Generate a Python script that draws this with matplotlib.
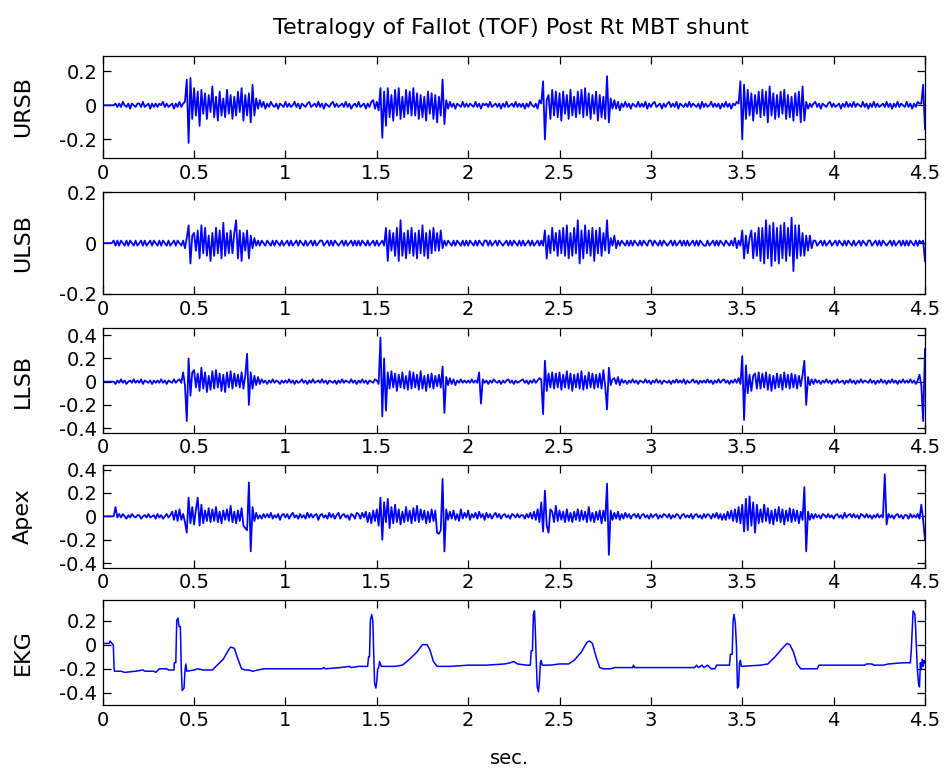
import numpy as np
import matplotlib
matplotlib.use('Agg')
import matplotlib.pyplot as plt

plt.rcParams['axes.unicode_minus'] = False
plt.rcParams['font.family'] = ['DejaVu Sans']

title = 'Tetralogy of Fallot (TOF) Post Rt MBT shunt'
step = 0.01   # sample spacing of the sound channels, sec.
scale = 0.01  # sound values are written in hundredths

# heart sound channels, one value every 0.01 s from 0 to 4.5 s (10 per row)
ursb = [
    0, 0, 0, 0, 0, 0, 0, 1, -1, 1,
    -1, 2, 0, -1, 1, -2, 1, 0, -1, 1,
    1, -1, 2, -1, 0, 1, -2, 1, -1, 1,
    -1, 1, 0, 2, -1, 1, -1, 0, 1, -2,
    1, -1, 2, -1, 1, 2, 15, -22, 16, -8,
    10, -6, 8, -12, 9, -5, 7, -8, 6, -4,
    11, -7, 5, -9, 8, -6, 4, -7, 9, -5,
    6, -8, 5, -6, 8, -4, 10, -9, 6, -6,
    7, -10, 12, -6, 4, -2, 3, -1, 2, -2,
    1, -1, 2, 0, -1, 1, -2, 1, 0, -1,
    2, -1, 1, -1, 0, 2, -1, 1, -2, 1,
    0, -1, 1, 2, -1, 0, 1, -1, 2, -1,
    1, -2, 1, 0, -1, 1, 2, -1, 1, -1,
    0, 1, -1, 2, -1, 1, -2, 0, 1, -1,
    2, -1, 0, 1, -2, 1, -1, 2, 3, -2,
    2, -3, 10, -19, 8, -12, 10, -7, 6, -9,
    9, -6, 10, -8, 5, -7, 9, -5, 8, -6,
    10, -6, 7, -8, 6, -7, 5, -9, 8, -5,
    7, -8, 6, -10, 5, -6, 15, -11, 3, -2,
    2, -1, 1, -2, 1, 0, -1, 2, -1, 1,
    -1, 1, 0, -1, 2, -1, 1, -2, 1, 0,
    1, -1, 2, -1, 0, 1, -1, 1, -2, 1,
    -1, 2, -1, 0, 1, -1, 2, -1, 1, -1,
    1, -2, 1, -1, 2, 0, -1, 1, -2, 3,
    1, 14, -20, 3, 6, -8, 9, -6, 8, -7,
    7, -9, 8, -5, 6, -8, 9, -6, 5, -7,
    8, -5, 9, -7, 10, -6, 7, -8, 6, -5,
    8, -9, 6, -7, 5, -8, 17, -10, 4, -2,
    3, -2, 2, -3, 1, -1, 2, -1, 1, -2,
    1, 0, -1, 2, -1, 1, -1, 2, -2, 1,
    -1, 1, 2, -1, 0, 1, -2, 1, -1, 1,
    2, -1, 1, -1, 2, -2, 1, 0, -1, 1,
    -1, 2, -1, 1, 0, -1, 1, -2, 2, -1,
    1, -1, 0, 2, -1, 1, -1, 1, -2, 1,
    -1, 2, -1, 1, -2, 1, 0, 2, 1, 14,
    -20, 12, -8, 9, -6, 7, -9, 6, -5, 8,
    -7, 9, -6, 8, -10, 11, -6, 7, -8, 6,
    -7, 8, -5, 9, -8, 6, -7, 5, -9, 7,
    -6, 8, -10, 11, -9, 2, -2, 1, -1, 1,
    2, -1, 1, -2, 1, 0, -1, 1, 2, -1,
    1, -1, 0, 1, -2, 1, -1, 2, -1, 1,
    -1, 2, -1, 1, 0, -1, 2, -1, 1, -2,
    1, -1, 2, -1, 1, -1, 0, 1, -1, 2,
    -1, 1, -2, 1, -1, 2, -1, 1, 0, -1,
    2, -1, 1, -2, 1, -1, 2, 1, 1, 12,
    -14,
]

ulsb = [
    0, 0, 0, 0, 0, 0, 1, -1, 1, -1,
    1, 0, -1, 1, -1, 1, 0, -1, 1, -1,
    0, 1, -1, 1, -1, 0, 1, -1, 1, 0,
    -1, 1, -1, 1, 0, -1, 1, -1, 0, 1,
    -1, 1, 0, -1, 1, -2, 2, 7, -8, 3,
    4, -3, 5, -6, 7, -4, 6, -5, 3, -7,
    4, -5, 6, -4, 5, -6, 8, -5, 4, -4,
    5, -4, 4, 9, -6, 5, -7, 4, -3, 5,
    -6, 3, -2, 2, -1, 1, -1, 1, 0, -1,
    1, 0, -1, 1, -1, 1, 0, -1, 1, -1,
    0, 1, -1, 1, -1, 0, 1, -1, 1, 0,
    -1, 1, -1, 0, 1, -1, 1, -1, 0, 1,
    1, -1, 0, 1, -1, 1, -1, 1, 0, -1,
    0, 1, -1, 1, -1, 0, 1, -1, 1, -1,
    1, -1, 1, 0, -1, 1, -1, 0, 1, -1,
    1, -1, 0, 1, -1, 6, -7, 5, -3, 4,
    -5, 6, -7, 9, -5, 4, -6, 5, -4, 6,
    -5, 4, -6, 5, -4, 7, -5, 4, -6, 5,
    -4, 6, -3, 4, -3, 5, -2, 1, -1, 1,
    0, -1, 1, -1, 1, 0, -1, 1, -1, 1,
    -1, 1, 0, -1, 1, -1, 1, 0, -1, 1,
    1, -1, 1, -1, 0, 1, -1, 1, 0, -1,
    0, 1, -1, 1, -1, 1, 0, -1, 1, -1,
    1, -1, 0, 1, -1, 1, -1, 0, 1, -1,
    1, -1, 5, -6, 3, -4, 6, -3, 4, -5,
    5, -4, 6, -5, 7, -6, 4, -5, 6, -4,
    9, -8, 5, -6, 7, -4, 5, -5, 6, -7,
    5, -4, 6, -5, 4, -3, 9, -4, 2, -1,
    3, -2, 1, -1, 1, 0, -1, 1, -1, 1,
    -1, 1, 0, -1, 1, -1, 1, 0, -1, 1,
    1, -1, 1, 0, -1, 1, -1, 1, 0, -1,
    0, 1, -1, 1, -1, 0, 1, -1, 1, -1,
    1, -1, 0, 1, -1, 1, -1, 1, 0, -1,
    -1, 1, -1, 0, 1, -1, 1, -1, 1, 0,
    -1, 1, 0, -1, 1, -1, 2, -2, 1, -1,
    5, -6, 3, -4, 2, 5, -6, 4, -5, 6,
    -7, 6, -8, 9, -6, 7, -9, 8, -7, 6,
    -8, 7, -6, 8, -7, 6, -5, 10, -11, 7,
    -6, 7, -5, 4, -5, 3, -3, 3, -2, 1,
    1, -1, 0, 1, -1, 1, -1, 0, 1, -1,
    0, 1, -1, 1, 0, -1, 1, -1, 1, 0,
    -1, 1, -1, 0, 1, -1, 1, 0, -1, 1,
    1, -1, 0, 1, -1, 1, -1, 1, 0, -1,
    0, 1, -1, 1, -1, 0, 1, -1, 1, -1,
    1, -1, 1, 0, -1, 1, -1, 1, 0, 1,
    -7,
]

llsb = [
    0, 0, 0, 0, 0, 0, 0, -2, 1, -1,
    2, -1, 1, -2, 0, 1, -1, 2, -1, 1,
    -1, 2, -2, 1, 0, -1, 1, -2, 1, -1,
    1, -1, 2, -1, 1, -2, 1, 0, -1, 2,
    -1, 1, 2, -1, 8, -3, -34, 20, -12, 8,
    10, -5, 7, -8, 12, -6, 8, -9, 5, -7,
    9, -6, 10, -5, 7, -8, 6, -9, 8, -5,
    9, -6, 7, -4, 6, -5, 8, -6, 5, 24,
    -20, 8, -6, 5, -3, 4, -2, 2, -1, 1,
    -2, 1, -1, 2, -1, 1, 0, -2, 1, -1,
    1, -1, 2, -1, 1, -2, 1, -1, 0, 2,
    -1, 1, -2, 1, -1, 2, -1, 0, 1, -1,
    2, -1, 1, -2, 1, 0, -1, 1, -2, 1,
    -1, 2, -1, 1, 0, -1, 2, -1, 1, -2,
    1, -1, 2, -1, 1, -2, 1, 0, -1, 2,
    1, -2, 38, -30, 20, -25, 8, -6, 9, -5,
    7, -8, 6, -5, 8, -6, 5, -7, 9, -6,
    8, -5, 6, -7, 9, -6, 5, -8, 6, -5,
    7, -6, 5, -4, 6, -5, 13, -27, 4, -3,
    3, -2, 2, -3, 1, -1, 2, -1, 1, -1,
    1, -1, 2, -1, 1, -1, 8, -19, 2, -1,
    1, -2, 1, -1, 2, 0, -1, 1, -2, 1,
    -1, 1, 2, -1, 1, -2, 1, -1, 0, 1,
    2, -1, 1, -2, 1, -1, 2, -1, 1, 3,
    2, -28, 18, -8, 7, -5, 8, -6, 7, -5,
    8, -7, 6, -5, 9, -6, 7, -8, 6, -5,
    7, -6, 9, -7, 5, -6, 8, -5, 7, -6,
    6, -5, 7, -6, 10, -4, -24, 12, -3, 2,
    3, -2, 4, -3, 2, -1, 1, -2, 1, -1,
    2, -1, 1, -2, 1, 0, -1, 2, -1, 1,
    -2, 1, -1, 2, -1, 1, -2, 1, 0, -1,
    1, -2, 1, -1, 2, -1, 1, -1, 2, -2,
    1, -1, 0, 2, -1, 1, -2, 1, -1, 1,
    -1, 2, -1, 1, -2, 1, -1, 2, -1, 1,
    2, -1, 1, -2, 1, -1, 2, -1, 3, -2,
    22, -33, 14, -10, 6, -8, 5, 7, -6, 8,
    -6, 7, -5, 8, -7, 6, -8, 5, -6, 7,
    -5, 6, -7, 8, -5, 6, -6, 7, -5, 6,
    -6, 5, -4, 6, 18, -20, 4, -3, 2, -2,
    2, -1, 1, -2, 1, -1, 2, -1, 1, -2,
    1, -1, 2, -1, 0, 1, -2, 1, -1, 2,
    -1, 1, -2, 1, -1, 2, -1, 1, 0, -1,
    2, -1, 1, -2, 1, -1, 2, -1, 1, -2,
    1, -1, 2, -1, 1, -2, 1, -1, 2, -1,
    1, -1, 2, -1, 1, -2, 1, 6, -3, -34,
    28,
]

apex = [
    0, 0, 0, 0, 0, 0, 0, 8, -1, 2,
    -1, 2, 0, -2, 1, -1, 2, 0, -1, 1,
    1, -2, 0, 1, -1, 2, -1, 0, 1, -2,
    2, -1, 1, -2, 0, 2, -1, 1, 4, -3,
    5, -4, 6, -3, 2, -5, -14, 16, -6, 8,
    -7, 6, 16, -8, 10, -6, 5, -4, 7, -5,
    6, -4, 8, -5, 4, -6, 5, -3, 6, -4,
    9, -5, 4, -6, 5, -4, 7, -8, -10, -12,
    29, -30, 8, -4, 3, -2, 1, -2, 2, -1,
    2, -1, 3, -2, 1, -1, 2, -3, 1, 2,
    -1, 2, -2, 1, 3, -1, 1, -2, 2, -1,
    1, -2, 3, -1, 2, -1, 1, 2, -3, 1,
    2, -1, 1, -2, 3, -1, 2, -2, 1, 3,
    -2, 1, 2, -1, 1, -3, 2, 1, -2, 3,
    2, -2, 3, -1, 4, -5, 3, -6, 5, -4,
    6, -8, 16, -20, 12, -5, 15, -10, 8, -6,
    10, -5, 6, -7, 4, -5, 8, -4, 5, -6,
    7, -4, 9, -5, 6, -3, 5, -6, 4, -5,
    6, -4, 5, -14, -15, -12, 32, -30, 6, -3,
    4, -2, 5, -3, 2, -4, 6, -2, 3, -1,
    5, -3, 2, -1, 3, -2, 4, -1, 2, -3,
    3, -1, 2, -2, 1, 3, -1, 2, -2, 1,
    2, -1, 1, -2, 2, 1, -1, 2, -1, 1,
    1, -2, 2, -1, 3, -2, 4, -3, 6, -5,
    12, -13, 22, -8, -14, 6, 4, -5, 9, -4,
    5, -3, 4, -5, 6, -4, 3, -5, 4, -3,
    6, -4, 5, -3, 4, -5, 8, -4, 3, -5,
    4, -3, 5, -6, 5, -4, 28, -33, 5, -3,
    3, -2, 4, -3, 2, -2, 3, -1, 2, -2,
    1, 2, -1, 2, -2, 1, 2, -1, 1, -2,
    2, -1, 1, 2, -2, 1, -1, 2, 1, -1,
    2, -2, 1, -1, 2, 1, -2, 1, 2, -1,
    1, -1, 2, -2, 1, 2, -1, 1, -2, 2,
    -1, 2, 1, -2, 2, -1, 3, -2, 2, -3,
    2, -3, 4, -2, 5, -4, 6, -5, 8, -6,
    10, -13, 15, -12, 17, -8, 12, -14, 10, -6,
    6, -5, 10, -4, 7, -6, 5, -7, 6, -4,
    8, -5, 6, -7, 5, -4, 7, -5, 6, -4,
    5, -6, 4, -3, 25, -30, 4, -3, 2, -2,
    2, -1, 1, -2, 2, 1, -1, 2, -1, 1,
    -2, 1, 2, -1, 1, -2, 3, -1, 1, 2,
    -1, 2, -1, 1, -2, 2, 1, -1, 2, -1,
    1, -2, 1, -1, 2, -1, 1, -1, 36, -7,
    2, -1, 1, -2, 1, 2, -1, 1, -2, 1,
    1, -2, 2, -1, 1, -1, 2, -2, 10, -3,
    -20,
]

# EKG trace as (time, value) vertices
ekg_t = [0.0, 0.035, 0.04, 0.05, 0.058, 0.062, 0.065, 0.10, 0.12, 0.18, 0.22, 0.23,
         0.28, 0.29, 0.31, 0.35, 0.36, 0.39, 0.392, 0.40, 0.405, 0.412, 0.418, 0.425,
         0.43, 0.435, 0.445, 0.45, 0.455, 0.46, 0.50, 0.52, 0.55, 0.60, 0.62, 0.66,
         0.69, 0.70, 0.72, 0.74, 0.76, 0.78, 0.80, 0.82, 0.85, 0.88, 1.20, 1.21,
         1.22, 1.30, 1.35, 1.36, 1.40, 1.45, 1.455, 1.46, 1.465, 1.472, 1.478, 1.482,
         1.488, 1.495, 1.50, 1.505, 1.51, 1.515, 1.525, 1.60, 1.64, 1.68, 1.72, 1.75,
         1.775, 1.79, 1.81, 1.83, 1.90, 2.00, 2.10, 2.20, 2.23, 2.25, 2.27, 2.32,
         2.34, 2.345, 2.352, 2.357, 2.363, 2.368, 2.372, 2.378, 2.385, 2.39, 2.395, 2.40,
         2.405, 2.45, 2.50, 2.55, 2.58, 2.62, 2.65, 2.665, 2.68, 2.70, 2.72, 2.74,
         2.78, 2.80, 2.90, 2.905, 2.91, 3.24, 3.25, 3.26, 3.28, 3.29, 3.31, 3.33,
         3.35, 3.36, 3.43, 3.435, 3.445, 3.45, 3.455, 3.462, 3.468, 3.474, 3.48, 3.485,
         3.49, 3.495, 3.60, 3.64, 3.68, 3.72, 3.745, 3.76, 3.78, 3.80, 3.82, 3.91,
         3.92, 4.17, 4.18, 4.21, 4.22, 4.27, 4.30, 4.38, 4.42, 4.425, 4.435, 4.445,
         4.45, 4.458, 4.465, 4.47, 4.475, 4.48, 4.485, 4.49, 4.495, 4.50]
ekg_v = [0.01, 0.01, 0.03, 0.01, 0.0, -0.2, -0.22, -0.22, -0.23, -0.22, -0.21, -0.22,
         -0.22, -0.23, -0.2, -0.2, -0.21, -0.21, -0.15, -0.15, 0.2, 0.22, 0.15, 0.15,
         -0.2, -0.38, -0.36, -0.22, -0.16, -0.22, -0.21, -0.2, -0.21, -0.21, -0.18, -0.12,
         -0.04, -0.02, -0.03, -0.12, -0.2, -0.21, -0.21, -0.22, -0.21, -0.2, -0.2, -0.19,
         -0.2, -0.19, -0.18, -0.19, -0.18, -0.18, -0.1, -0.1, 0.2, 0.25, 0.2, 0.0,
         -0.32, -0.36, -0.3, -0.2, -0.19, -0.14, -0.18, -0.18, -0.17, -0.12, -0.06, 0.0,
         0.0, -0.04, -0.14, -0.18, -0.18, -0.17, -0.17, -0.16, -0.15, -0.14, -0.16, -0.17,
         -0.17, -0.05, -0.05, 0.25, 0.28, 0.1, -0.1, -0.35, -0.39, -0.3, -0.15, -0.13,
         -0.17, -0.17, -0.16, -0.16, -0.13, -0.06, 0.02, 0.03, 0.01, -0.1, -0.19, -0.2,
         -0.2, -0.19, -0.19, -0.17, -0.19, -0.19, -0.17, -0.19, -0.17, -0.19, -0.17, -0.2,
         -0.2, -0.17, -0.17, -0.08, -0.08, 0.2, 0.25, 0.18, 0.0, -0.36, -0.34, -0.15,
         -0.13, -0.18, -0.17, -0.16, -0.1, -0.03, 0.01, 0.0, -0.06, -0.16, -0.2, -0.2,
         -0.17, -0.17, -0.16, -0.16, -0.17, -0.17, -0.16, -0.15, -0.15, -0.05, 0.28, 0.25,
         0.1, -0.2, -0.33, -0.35, -0.15, -0.2, -0.12, -0.18, -0.13, -0.15]

names = ['URSB', 'ULSB', 'LLSB', 'Apex', 'EKG']
x_ticks = [0, 0.5, 1, 1.5, 2, 2.5, 3, 3.5, 4, 4.5]
y_ticks = [[-0.2, 0, 0.2], [-0.2, 0, 0.2], [-0.4, -0.2, 0, 0.2, 0.4],
           [-0.4, -0.2, 0, 0.2, 0.4], [-0.4, -0.2, 0, 0.2]]
y_lims = [(-0.31, 0.29), (-0.2, 0.2), (-0.44, 0.46), (-0.44, 0.44), (-0.5, 0.37)]

# axes boxes in figure fractions [left, bottom, width, height]
boxes = [[0.1087, 0.7947, 0.8701, 0.1331],
         [0.1087, 0.6187, 0.8701, 0.1319],
         [0.1087, 0.4388, 0.8701, 0.1354],
         [0.1087, 0.2637, 0.8701, 0.1332],
         [0.1087, 0.0856, 0.8701, 0.1362]]

blue = '#0000ff'
fig = plt.figure(figsize=(9.45, 7.71), dpi=100)

for i, name in enumerate(names):
    ax = fig.add_axes(boxes[i])
    if name == 'EKG':
        ax.plot(ekg_t, ekg_v, color=blue, lw=1.1)
    else:
        vals = np.array([ursb, ulsb, llsb, apex][i]) * scale
        t = np.arange(len(vals)) * step
        ax.plot(t, vals, color=blue, lw=1.3)
    ax.set_xlim(0, 4.5)
    ax.set_ylim(*y_lims[i])
    ax.set_xticks(x_ticks)
    ax.set_xticklabels(['%g' % v for v in x_ticks])
    ax.set_yticks(y_ticks[i])
    ax.set_yticklabels(['%g' % v for v in y_ticks[i]])
    ax.tick_params(direction='in', top=True, right=True, length=6, width=0.9,
                   labelsize=14, pad=4)
    for s in ax.spines.values():
        s.set_linewidth(0.9)
    ax.set_ylabel(name, fontsize=16)
    ax.yaxis.set_label_coords(-0.085, 0.5)

fig.text(0.5405, 1 - 28 / 771, title, ha='center', va='center', fontsize=16)
fig.text(510 / 945, 1 - 759 / 771, 'sec.', ha='center', va='center', fontsize=14)

fig.savefig('out.png', dpi=100)
